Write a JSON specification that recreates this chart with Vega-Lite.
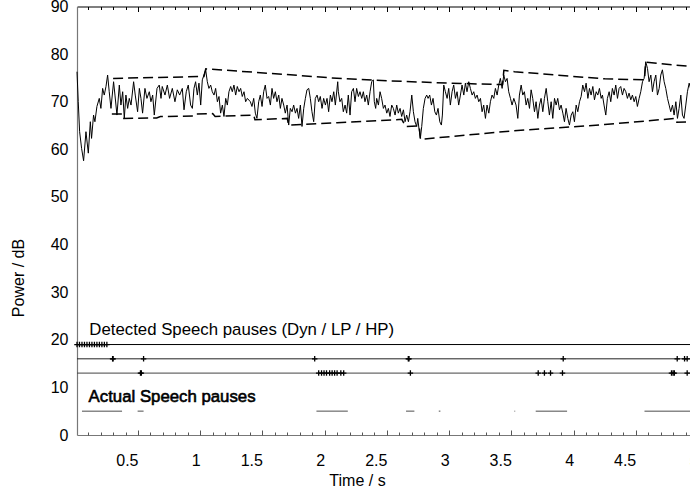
{
  "$schema": "https://vega.github.io/schema/vega-lite/v6.json",
  "width": 621,
  "height": 428.5,
  "autosize": {"type": "none"},
  "padding": {"left": 77, "top": 6.5, "right": 0, "bottom": 60},
  "background": "white",
  "config": {
    "view": {"stroke": null},
    "font": "Liberation Sans",
    "axis": {"labelFont": "Liberation Sans", "titleFont": "Liberation Sans", "labelColor": "#000", "titleColor": "#000", "titleFontWeight": "normal", "grid": false}
  },
  "datasets": {
    "signal": [
      {"t":0.01,"v":76.3},{"t":0.020,"v":70.0},{"t":0.031,"v":63.7},{"t":0.047,"v":60.2},{"t":0.063,"v":57.6},{"t":0.082,"v":63.7},{"t":0.101,"v":59.2},{"t":0.117,"v":65.8},{"t":0.127,"v":62.3},{"t":0.143,"v":67.2},{"t":0.154,"v":65.8},{"t":0.170,"v":69.0},{"t":0.189,"v":70.7},{"t":0.202,"v":68.6},{"t":0.216,"v":72.8},{"t":0.229,"v":71.4},{"t":0.243,"v":73.2},{"t":0.256,"v":75.6},{"t":0.269,"v":72.1},{"t":0.283,"v":68.6},{"t":0.304,"v":74.2},{"t":0.315,"v":71.4},{"t":0.331,"v":67.2},{"t":0.350,"v":73.5},{"t":0.363,"v":69.3},{"t":0.377,"v":72.1},{"t":0.390,"v":66.5},{"t":0.403,"v":71.4},{"t":0.417,"v":68.6},{"t":0.430,"v":70.7},{"t":0.444,"v":69.3},{"t":0.465,"v":74.2},{"t":0.478,"v":71.4},{"t":0.497,"v":67.9},{"t":0.511,"v":72.8},{"t":0.524,"v":70.7},{"t":0.537,"v":67.6},{"t":0.556,"v":72.8},{"t":0.572,"v":70.7},{"t":0.591,"v":72.1},{"t":0.604,"v":70.0},{"t":0.618,"v":71.4},{"t":0.631,"v":67.2},{"t":0.653,"v":72.8},{"t":0.671,"v":73.5},{"t":0.685,"v":70.7},
      {"t":0.695,"v":73.2},{"t":0.717,"v":71.4},{"t":0.736,"v":73.5},{"t":0.754,"v":70.7},{"t":0.776,"v":72.8},{"t":0.797,"v":70.0},{"t":0.816,"v":72.5},{"t":0.835,"v":71.4},{"t":0.856,"v":72.8},{"t":0.870,"v":68.3},{"t":0.888,"v":72.1},{"t":0.904,"v":73.5},{"t":0.923,"v":69.3},{"t":0.937,"v":68.6},{"t":0.950,"v":72.8},{"t":0.963,"v":74.2},{"t":0.977,"v":71.4},{"t":0.990,"v":73.9},{"t":1.004,"v":69.3},{"t":1.017,"v":74.6},{"t":1.030,"v":75.6},{"t":1.044,"v":76.7},{"t":1.057,"v":74.2},{"t":1.070,"v":72.8},{"t":1.084,"v":73.5},{"t":1.097,"v":72.1},{"t":1.111,"v":71.4},{"t":1.124,"v":72.8},{"t":1.138,"v":70.0},{"t":1.151,"v":71.1},{"t":1.164,"v":67.6},{"t":1.178,"v":69.3},{"t":1.191,"v":66.9},{"t":1.205,"v":70.7},{"t":1.218,"v":69.3},{"t":1.231,"v":72.1},{"t":1.245,"v":73.2},{"t":1.258,"v":72.1},{"t":1.271,"v":73.5},{"t":1.285,"v":71.4},{"t":1.298,"v":73.2},{"t":1.312,"v":72.1},{"t":1.325,"v":72.8},{"t":1.338,"v":71.1},{"t":1.352,"v":72.1},{"t":1.365,"v":70.0},{"t":1.379,"v":70.7},
      {"t":1.403,"v":70.0},{"t":1.416,"v":69.0},{"t":1.430,"v":70.7},{"t":1.443,"v":67.6},{"t":1.456,"v":66.5},{"t":1.470,"v":70.0},{"t":1.483,"v":71.4},{"t":1.497,"v":69.0},{"t":1.510,"v":72.1},{"t":1.523,"v":73.5},{"t":1.537,"v":70.7},{"t":1.550,"v":71.1},{"t":1.564,"v":69.3},{"t":1.577,"v":72.8},{"t":1.590,"v":70.7},{"t":1.604,"v":72.1},{"t":1.617,"v":70.0},{"t":1.631,"v":71.4},{"t":1.644,"v":68.6},{"t":1.657,"v":70.7},{"t":1.671,"v":69.3},{"t":1.684,"v":67.6},{"t":1.698,"v":69.3},{"t":1.711,"v":65.1},{"t":1.724,"v":68.6},{"t":1.738,"v":67.9},{"t":1.751,"v":69.3},{"t":1.765,"v":67.6},{"t":1.778,"v":68.6},{"t":1.791,"v":66.5},{"t":1.805,"v":69.3},{"t":1.818,"v":64.8},{"t":1.832,"v":68.6},{"t":1.845,"v":70.7},{"t":1.858,"v":72.5},{"t":1.872,"v":72.8},{"t":1.885,"v":70.7},{"t":1.898,"v":67.9},{"t":1.912,"v":65.8},{"t":1.925,"v":70.7},{"t":1.939,"v":71.4},{"t":1.952,"v":70.0},{"t":1.965,"v":71.1},{"t":1.979,"v":68.6},{"t":1.992,"v":70.7},{"t":2.006,"v":69.3},{"t":2.019,"v":70.7},{"t":2.032,"v":67.9},{"t":2.046,"v":71.4},{"t":2.059,"v":70.0},{"t":2.073,"v":72.1},{"t":2.086,"v":69.3},{"t":2.105,"v":74.2},
      {"t":2.110,"v":72.1},{"t":2.123,"v":70.0},{"t":2.137,"v":70.7},{"t":2.150,"v":67.9},{"t":2.164,"v":69.3},{"t":2.177,"v":67.6},{"t":2.190,"v":71.4},{"t":2.204,"v":67.2},{"t":2.217,"v":72.1},{"t":2.231,"v":72.8},{"t":2.244,"v":70.0},{"t":2.257,"v":72.8},{"t":2.271,"v":71.1},{"t":2.284,"v":72.1},{"t":2.298,"v":70.7},{"t":2.311,"v":72.1},{"t":2.324,"v":70.0},{"t":2.338,"v":71.4},{"t":2.351,"v":69.3},{"t":2.365,"v":72.1},{"t":2.378,"v":74.2},{"t":2.391,"v":74.6},{"t":2.399,"v":70.0},{"t":2.410,"v":68.6},{"t":2.418,"v":70.7},{"t":2.432,"v":69.3},{"t":2.445,"v":72.1},{"t":2.458,"v":70.7},{"t":2.472,"v":68.6},{"t":2.485,"v":69.3},{"t":2.499,"v":67.6},{"t":2.512,"v":68.6},{"t":2.525,"v":66.9},{"t":2.539,"v":69.3},{"t":2.552,"v":68.6},{"t":2.566,"v":67.2},{"t":2.579,"v":69.3},{"t":2.592,"v":67.6},{"t":2.606,"v":68.6},{"t":2.619,"v":66.9},{"t":2.633,"v":68.3},{"t":2.646,"v":65.8},{"t":2.659,"v":67.2},{"t":2.673,"v":65.8},{"t":2.686,"v":67.9},{"t":2.700,"v":71.4},{"t":2.713,"v":67.9},{"t":2.726,"v":65.8},{"t":2.740,"v":64.8},{"t":2.748,"v":66.5},{"t":2.759,"v":64.1},{"t":2.769,"v":62.3},{"t":2.780,"v":64.8},{"t":2.793,"v":68.6},{"t":2.807,"v":70.7},{"t":2.820,"v":71.4},
      {"t":2.831,"v":70.7},{"t":2.844,"v":71.4},{"t":2.858,"v":69.3},{"t":2.871,"v":70.7},{"t":2.885,"v":67.9},{"t":2.898,"v":67.2},{"t":2.911,"v":68.6},{"t":2.925,"v":65.8},{"t":2.938,"v":65.1},{"t":2.946,"v":67.2},{"t":2.957,"v":73.5},{"t":2.970,"v":72.1},{"t":2.984,"v":70.7},{"t":2.997,"v":72.8},{"t":3.010,"v":69.3},{"t":3.024,"v":72.1},{"t":3.037,"v":73.5},{"t":3.051,"v":70.7},{"t":3.064,"v":72.1},{"t":3.077,"v":69.3},{"t":3.091,"v":71.4},{"t":3.104,"v":73.5},{"t":3.118,"v":71.4},{"t":3.131,"v":73.9},{"t":3.144,"v":72.1},{"t":3.158,"v":74.2},{"t":3.171,"v":72.8},{"t":3.185,"v":71.4},{"t":3.198,"v":72.1},{"t":3.211,"v":70.7},{"t":3.225,"v":71.4},{"t":3.238,"v":70.0},{"t":3.252,"v":70.7},{"t":3.265,"v":67.9},{"t":3.278,"v":69.3},{"t":3.292,"v":66.5},{"t":3.305,"v":69.3},{"t":3.319,"v":67.6},{"t":3.332,"v":70.0},{"t":3.345,"v":71.4},{"t":3.359,"v":70.7},{"t":3.372,"v":72.8},{"t":3.386,"v":71.4},{"t":3.399,"v":73.5},{"t":3.412,"v":74.9},{"t":3.426,"v":72.8},{"t":3.439,"v":75.6},{"t":3.453,"v":74.2},{"t":3.466,"v":74.9},{"t":3.479,"v":72.1},{"t":3.493,"v":70.7},{"t":3.506,"v":69.3},{"t":3.520,"v":70.7},
      {"t":3.538,"v":69.3},{"t":3.552,"v":66.5},{"t":3.565,"v":71.4},{"t":3.579,"v":73.5},{"t":3.592,"v":71.4},{"t":3.605,"v":72.1},{"t":3.619,"v":69.3},{"t":3.632,"v":70.7},{"t":3.646,"v":68.6},{"t":3.659,"v":72.5},{"t":3.672,"v":70.7},{"t":3.686,"v":67.9},{"t":3.699,"v":70.0},{"t":3.713,"v":66.5},{"t":3.726,"v":69.3},{"t":3.739,"v":70.7},{"t":3.753,"v":67.9},{"t":3.766,"v":70.7},{"t":3.780,"v":72.8},{"t":3.793,"v":70.0},{"t":3.806,"v":67.2},{"t":3.820,"v":70.0},{"t":3.833,"v":66.5},{"t":3.847,"v":70.7},{"t":3.860,"v":69.3},{"t":3.873,"v":70.7},{"t":3.887,"v":68.3},{"t":3.900,"v":69.3},{"t":3.914,"v":67.6},{"t":3.927,"v":65.8},{"t":3.940,"v":68.6},{"t":3.954,"v":66.5},{"t":3.967,"v":65.1},{"t":3.981,"v":67.2},{"t":3.994,"v":67.9},{"t":4.007,"v":65.8},{"t":4.021,"v":69.3},{"t":4.034,"v":67.9},{"t":4.048,"v":70.0},{"t":4.061,"v":71.1},{"t":4.074,"v":73.5},{"t":4.088,"v":72.1},{"t":4.101,"v":73.9},{"t":4.115,"v":70.7},{"t":4.128,"v":72.8},{"t":4.141,"v":71.4},{"t":4.155,"v":73.2},{"t":4.168,"v":70.4},{"t":4.182,"v":72.1},{"t":4.195,"v":71.4},{"t":4.208,"v":72.8},{"t":4.222,"v":70.7},
      {"t":4.232,"v":71.4},{"t":4.245,"v":69.3},{"t":4.259,"v":67.2},{"t":4.272,"v":70.7},{"t":4.286,"v":72.1},{"t":4.299,"v":70.0},{"t":4.312,"v":72.8},{"t":4.326,"v":71.4},{"t":4.339,"v":73.5},{"t":4.353,"v":70.7},{"t":4.366,"v":72.8},{"t":4.379,"v":73.2},{"t":4.393,"v":71.4},{"t":4.406,"v":72.8},{"t":4.420,"v":72.1},{"t":4.433,"v":70.7},{"t":4.446,"v":71.8},{"t":4.460,"v":70.4},{"t":4.473,"v":71.4},{"t":4.487,"v":70.0},{"t":4.500,"v":71.1},{"t":4.513,"v":69.0},{"t":4.527,"v":70.7},{"t":4.540,"v":72.1},{"t":4.554,"v":74.2},{"t":4.567,"v":74.9},{"t":4.580,"v":78.4},{"t":4.594,"v":77.0},{"t":4.607,"v":74.2},{"t":4.621,"v":75.6},{"t":4.634,"v":72.1},{"t":4.647,"v":74.2},{"t":4.661,"v":75.6},{"t":4.674,"v":71.4},{"t":4.688,"v":72.8},{"t":4.701,"v":75.6},{"t":4.714,"v":76.7},{"t":4.728,"v":74.2},{"t":4.741,"v":72.8},{"t":4.755,"v":70.7},{"t":4.768,"v":69.3},{"t":4.781,"v":67.9},{"t":4.795,"v":69.3},{"t":4.808,"v":67.2},{"t":4.822,"v":70.0},{"t":4.835,"v":66.5},{"t":4.848,"v":68.6},{"t":4.862,"v":71.4},{"t":4.875,"v":67.2},{"t":4.888,"v":66.5},{"t":4.902,"v":69.3},{"t":4.915,"v":72.1},{"t":4.929,"v":73.9},{"t":4.940,"v":72.8}
    ],
    "envelope": [
      {"s":"upper","t":0.30,"v":74.9},{"s":"upper","t":1.03,"v":75.3},{"s":"upper","t":1.045,"v":76.9},{"s":"upper","t":1.43,"v":76.2},{"s":"upper","t":2.06,"v":75.0},{"s":"upper","t":2.5,"v":74.4},{"s":"upper","t":3.0,"v":73.9},{"s":"upper","t":3.43,"v":73.6},{"s":"upper","t":3.44,"v":76.6},{"s":"upper","t":3.525,"v":76.3},{"s":"upper","t":4.25,"v":74.8},{"s":"upper","t":4.57,"v":74.6},{"s":"upper","t":4.58,"v":78.3},{"s":"upper","t":4.94,"v":77.4},
      {"s":"lower","t":0.29,"v":67.4},{"s":"lower","t":0.375,"v":67.4},{"s":"lower","t":0.38,"v":66.5},{"s":"lower","t":0.65,"v":66.6},{"s":"lower","t":0.68,"v":66.9},{"s":"lower","t":0.95,"v":67.0},{"s":"lower","t":0.96,"v":67.4},{"s":"lower","t":1.10,"v":67.5},{"s":"lower","t":1.12,"v":66.9},{"s":"lower","t":1.43,"v":67.2},{"s":"lower","t":1.44,"v":66.2},{"s":"lower","t":1.70,"v":66.5},{"s":"lower","t":1.71,"v":65.1},{"s":"lower","t":2.10,"v":65.6},{"s":"lower","t":2.62,"v":66.3},{"s":"lower","t":2.65,"v":64.8},{"s":"lower","t":2.76,"v":64.9},{"s":"lower","t":2.77,"v":62.1},{"s":"lower","t":3.52,"v":63.9},{"s":"lower","t":4.25,"v":65.2},{"s":"lower","t":4.82,"v":66.5},{"s":"lower","t":4.83,"v":65.7},{"s":"lower","t":4.94,"v":65.8}
    ],
    "detected": [{"v":19,"c":"Dyn"},{"v":16,"c":"LP"},{"v":13,"c":"HP"}],
    "markers": [
      {"t":0.01,"v":19},{"t":0.03,"v":19},{"t":0.05,"v":19},{"t":0.07,"v":19},{"t":0.09,"v":19},{"t":0.11,"v":19},{"t":0.13,"v":19},{"t":0.15,"v":19},{"t":0.17,"v":19},{"t":0.19,"v":19},{"t":0.21,"v":19},{"t":0.23,"v":19},{"t":0.25,"v":19},
      {"t":0.296,"v":16},{"t":0.300,"v":16},{"t":0.545,"v":16},{"t":1.920,"v":16},{"t":2.672,"v":16},{"t":2.678,"v":16},{"t":3.917,"v":16},{"t":4.833,"v":16},{"t":4.892,"v":16},{"t":4.913,"v":16},
      {"t":0.520,"v":13},{"t":0.527,"v":13},{"t":1.952,"v":13},{"t":1.975,"v":13},{"t":1.995,"v":13},{"t":2.015,"v":13},{"t":2.04,"v":13},{"t":2.06,"v":13},{"t":2.08,"v":13},{"t":2.10,"v":13},{"t":2.13,"v":13},{"t":2.153,"v":13},{"t":2.689,"v":13},{"t":3.716,"v":13},{"t":3.766,"v":13},{"t":3.815,"v":13},{"t":3.911,"v":13},{"t":4.787,"v":13},{"t":4.800,"v":13},{"t":4.810,"v":13},{"t":4.913,"v":13}
    ],
    "actual": [
      {"t0":0.050,"t1":0.372,"v":5},{"t0":0.497,"t1":0.545,"v":5},{"t0":1.934,"t1":2.186,"v":5},{"t0":2.654,"t1":2.721,"v":5},{"t0":2.917,"t1":2.930,"v":5},{"t0":3.525,"t1":3.531,"v":5},{"t0":3.696,"t1":3.948,"v":5},{"t0":4.570,"t1":5.0,"v":5}
    ],
    "notes": [
      {"t":0.109,"v":21.0,"txt":"Detected Speech pauses (Dyn / LP / HP)","k":"det"},
      {"t":0.103,"v":7.0,"txt":"Actual Speech pauses","k":"act"}
    ]
  },
  "resolve": {"axis": {"x": "independent"}},
  "layer": [
    {
      "data": {"name": "detected"},
      "mark": {"type": "rule", "strokeWidth": 1},
      "encoding": {
        "y": {"field": "v", "type": "quantitative", "scale": {"domain": [0, 90], "nice": false}},
        "color": {"field": "c", "type": "nominal", "scale": {"domain": ["Dyn", "LP", "HP"], "range": ["#000000", "#222222", "#444444"]}, "legend": null}
      }
    },
    {
      "data": {"name": "signal"},
      "mark": {"type": "line", "color": "#000", "strokeWidth": 1},
      "encoding": {
        "x": {"field": "t", "type": "quantitative", "scale": {"domain": [0.01, 5], "nice": false, "zero": false},
          "axis": {"orient": "bottom", "values": [0.5,1,1.5,2,2.5,3,3.5,4,4.5,5], "format": "~g", "ticks": false, "labelAlign": "right", "labelFlush": false, "labelOverlap": false, "labelFontSize": 16, "labelPadding": 17, "domainColor": "#777", "domainWidth": 1.2, "title": "Time / s", "titleFontSize": 16, "titleX": 280, "titleY": 45, "titleAlign": "center", "titleBaseline": "middle", "titleAnchor": null}},
        "y": {"field": "v", "type": "quantitative", "scale": {"domain": [0, 90], "nice": false},
          "axis": {"values": [0,10,20,30,40,50,60,70,80,90], "ticks": false, "labelPadding": 9, "labelFontSize": 16, "domainColor": "#777", "domainWidth": 1.2, "title": "Power / dB", "titleFontSize": 16, "titleX": -59, "titleY": 271, "titleAngle": 270, "titleAlign": "center", "titleBaseline": "middle", "titleAnchor": null}}
      }
    },
    {
      "data": {"name": "envelope"},
      "mark": {"type": "line", "color": "#000", "strokeWidth": 1.5, "strokeDash": [10, 5]},
      "encoding": {
        "x": {"field": "t", "type": "quantitative", "axis": {"orient": "top", "offset": -428.5, "values": [0.5,1,1.5,2,2.5,3,3.5,4,4.5,5], "labels": false, "domain": false, "title": null, "tickSize": 5, "tickColor": "#555"}},
        "y": {"field": "v", "type": "quantitative"},
        "detail": {"field": "s", "type": "nominal"}
      }
    },
    {
      "data": {"name": "actual"},
      "mark": {"type": "rule", "color": "#888", "strokeWidth": 1.5},
      "encoding": {
        "x": {"field": "t0", "type": "quantitative", "axis": {"orient": "top", "offset": -428.5, "values": [0.1,0.2,0.3,0.4,0.6,0.7,0.8,0.9,1.1,1.2,1.3,1.4,1.6,1.7,1.8,1.9,2.1,2.2,2.3,2.4,2.6,2.7,2.8,2.9,3.1,3.2,3.3,3.4,3.6,3.7,3.8,3.9,4.1,4.2,4.3,4.4,4.6,4.7,4.8,4.9], "labels": false, "domain": false, "title": null, "tickSize": 3, "tickColor": "#555"}},
        "x2": {"field": "t1"},
        "y": {"field": "v", "type": "quantitative"}
      }
    },
    {
      "data": {"name": "markers"},
      "mark": {"type": "point", "shape": "M-1,0H1M0,-1V1", "filled": false, "color": "#000", "strokeWidth": 1.3, "size": 30, "opacity": 1},
      "encoding": {
        "x": {"field": "t", "type": "quantitative", "axis": {"orient": "bottom", "offset": -428.5, "values": [0.5,1,1.5,2,2.5,3,3.5,4,4.5,5], "labels": false, "domain": true, "domainColor": "#000", "domainWidth": 1.2, "title": null, "tickSize": 5, "tickColor": "#000"}},
        "y": {"field": "v", "type": "quantitative"}
      }
    },
    {
      "data": {"name": "notes"},
      "mark": {"type": "text", "align": "left", "baseline": "alphabetic", "fontSize": 16.8, "font": "Liberation Sans", "color": "#000"},
      "encoding": {
        "x": {"field": "t", "type": "quantitative", "axis": {"orient": "bottom", "offset": -428.5, "values": [0.1,0.2,0.3,0.4,0.6,0.7,0.8,0.9,1.1,1.2,1.3,1.4,1.6,1.7,1.8,1.9,2.1,2.2,2.3,2.4,2.6,2.7,2.8,2.9,3.1,3.2,3.3,3.4,3.6,3.7,3.8,3.9,4.1,4.2,4.3,4.4,4.6,4.7,4.8,4.9], "labels": false, "domain": false, "title": null, "tickSize": 3, "tickColor": "#000"}},
        "y": {"field": "v", "type": "quantitative"},
        "text": {"field": "txt"},
        "strokeWidth": {"field": "k", "type": "nominal", "scale": {"domain": ["det", "act"], "range": [0, 0.6]}, "legend": null},
        "stroke": {"value": "#000"}
      }
    }
  ]
}
